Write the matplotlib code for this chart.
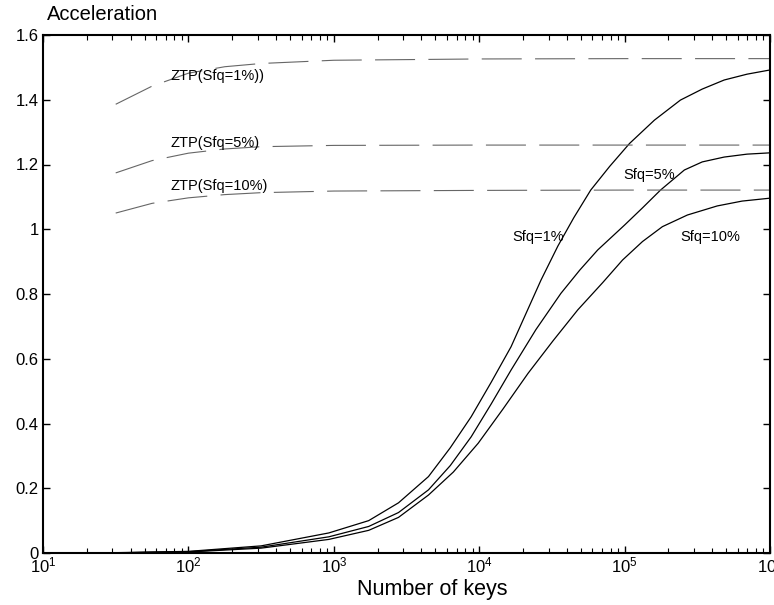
import matplotlib
matplotlib.use("Agg")
import matplotlib.pyplot as plt
import numpy as np

plt.rcParams['font.family'] = ['Liberation Sans', 'DejaVu Sans']
plt.rcParams['mathtext.fontset'] = 'custom'
plt.rcParams['mathtext.rm'] = 'Liberation Sans'
plt.rcParams['mathtext.it'] = 'Liberation Sans'

# Acceleration vs number of keys (x values given as log10 of key count)
logx_1 = [1.0, 1.5, 2.0, 2.5, 2.966, 3.24, 3.445, 3.651, 3.801, 3.945, 4.082, 4.219, 4.322,
          4.425, 4.541, 4.651, 4.767, 4.897, 5.034, 5.205, 5.384, 5.534, 5.685, 5.842, 6.0]
acc_1 = [0.0, 0.001, 0.005, 0.022, 0.062, 0.10, 0.155, 0.236, 0.325, 0.421, 0.527, 0.637, 0.74,
         0.843, 0.948, 1.036, 1.121, 1.194, 1.265, 1.337, 1.399, 1.433, 1.461, 1.479, 1.492]

logx_5 = [1.0, 1.5, 2.0, 2.5, 2.966, 3.24, 3.445, 3.651, 3.801, 3.945, 4.082, 4.219, 4.39,
          4.562, 4.692, 4.815, 5.0, 5.123, 5.247, 5.411, 5.534, 5.685, 5.842, 6.0]
acc_5 = [0.0, 0.0006, 0.004, 0.018, 0.050, 0.082, 0.125, 0.195, 0.27, 0.359, 0.46, 0.565, 0.69,
         0.802, 0.874, 0.936, 1.013, 1.066, 1.121, 1.183, 1.208, 1.223, 1.232, 1.236]

logx_10 = [1.0, 1.5, 2.0, 2.5, 2.966, 3.24, 3.445, 3.651, 3.822, 3.993, 4.164, 4.336, 4.507,
           4.678, 4.849, 4.986, 5.123, 5.26, 5.432, 5.637, 5.808, 6.0]
acc_10 = [0.0, 0.0005, 0.003, 0.015, 0.042, 0.07, 0.11, 0.179, 0.25, 0.339, 0.445, 0.555, 0.655,
          0.751, 0.835, 0.905, 0.962, 1.008, 1.044, 1.072, 1.087, 1.096]

# ZTP curves
logx_ztp = [1.5, 1.75, 2.0, 2.25, 2.5, 3.0, 4.0, 5.0, 6.0]
ztp_1 = [1.386, 1.442, 1.482, 1.502, 1.512, 1.522, 1.526, 1.527, 1.527]
ztp_5 = [1.174, 1.212, 1.235, 1.248, 1.255, 1.259, 1.260, 1.260, 1.260]
ztp_10 = [1.050, 1.080, 1.097, 1.107, 1.113, 1.118, 1.120, 1.121, 1.121]

ytick_vals = [0, 0.2, 0.4, 0.6, 0.8, 1.0, 1.2, 1.4, 1.6]
ytick_labels = ['0', '0.2', '0.4', '0.6', '0.8', '1', '1.2', '1.4', '1.6']
xtick_vals = [1e1, 1e2, 1e3, 1e4, 1e5, 1e6]
xtick_labels = [r'$10^{1}$', r'$10^{2}$', r'$10^{3}$', r'$10^{4}$', r'$10^{5}$', r'$10^{6}$']

fig = plt.figure(figsize=(7.74, 6.05), dpi=100)
ax = fig.add_axes([43/774, 52/605, 727/774, 518/605])

for lx, y in [(logx_1, acc_1), (logx_5, acc_5), (logx_10, acc_10)]:
    ax.plot(10 ** np.array(lx), y, color='black', lw=0.9)

for y in [ztp_1, ztp_5, ztp_10]:
    ax.plot(10 ** np.array(logx_ztp), y, color='#666666', lw=0.8, dashes=(36, 12))

ax.set_xscale('log')
ax.set_xlim(1e1, 1e6)
ax.set_ylim(0, 1.6)
ax.set_xticks(xtick_vals)
ax.set_xticklabels(xtick_labels)
ax.set_yticks(ytick_vals)
ax.set_yticklabels(ytick_labels)

for s in ax.spines.values():
    s.set_linewidth(1.5)
ax.tick_params(which='both', direction='in', top=True, right=True, labelsize=12, pad=2)
ax.tick_params(which='major', length=5, width=1)
ax.tick_params(which='minor', length=3.5, width=0.8)
ax.tick_params(axis='y', pad=3)

# labels on curves
ax.text(0.175, 0.92, 'ZTP(Sfq=1%))', transform=ax.transAxes, fontsize=10.5, va='center')
ax.text(0.175, 0.791, 'ZTP(Sfq=5%)', transform=ax.transAxes, fontsize=10.5, va='center')
ax.text(0.175, 0.708, 'ZTP(Sfq=10%)', transform=ax.transAxes, fontsize=10.5, va='center')
ax.text(0.798, 0.73, 'Sfq=5%', transform=ax.transAxes, fontsize=10.5, va='center')
ax.text(0.645, 0.61, 'Sfq=1%', transform=ax.transAxes, fontsize=10.5, va='center')
ax.text(0.876, 0.61, 'Sfq=10%', transform=ax.transAxes, fontsize=10.5, va='center')

fig.text(47/774, 1 - 15/605, 'Acceleration', fontsize=14.5, va='center', ha='left')
fig.text(432/774, 1 - 589/605, 'Number of keys', fontsize=15.5, va='center', ha='center')

fig.savefig('out.png', dpi=100)
